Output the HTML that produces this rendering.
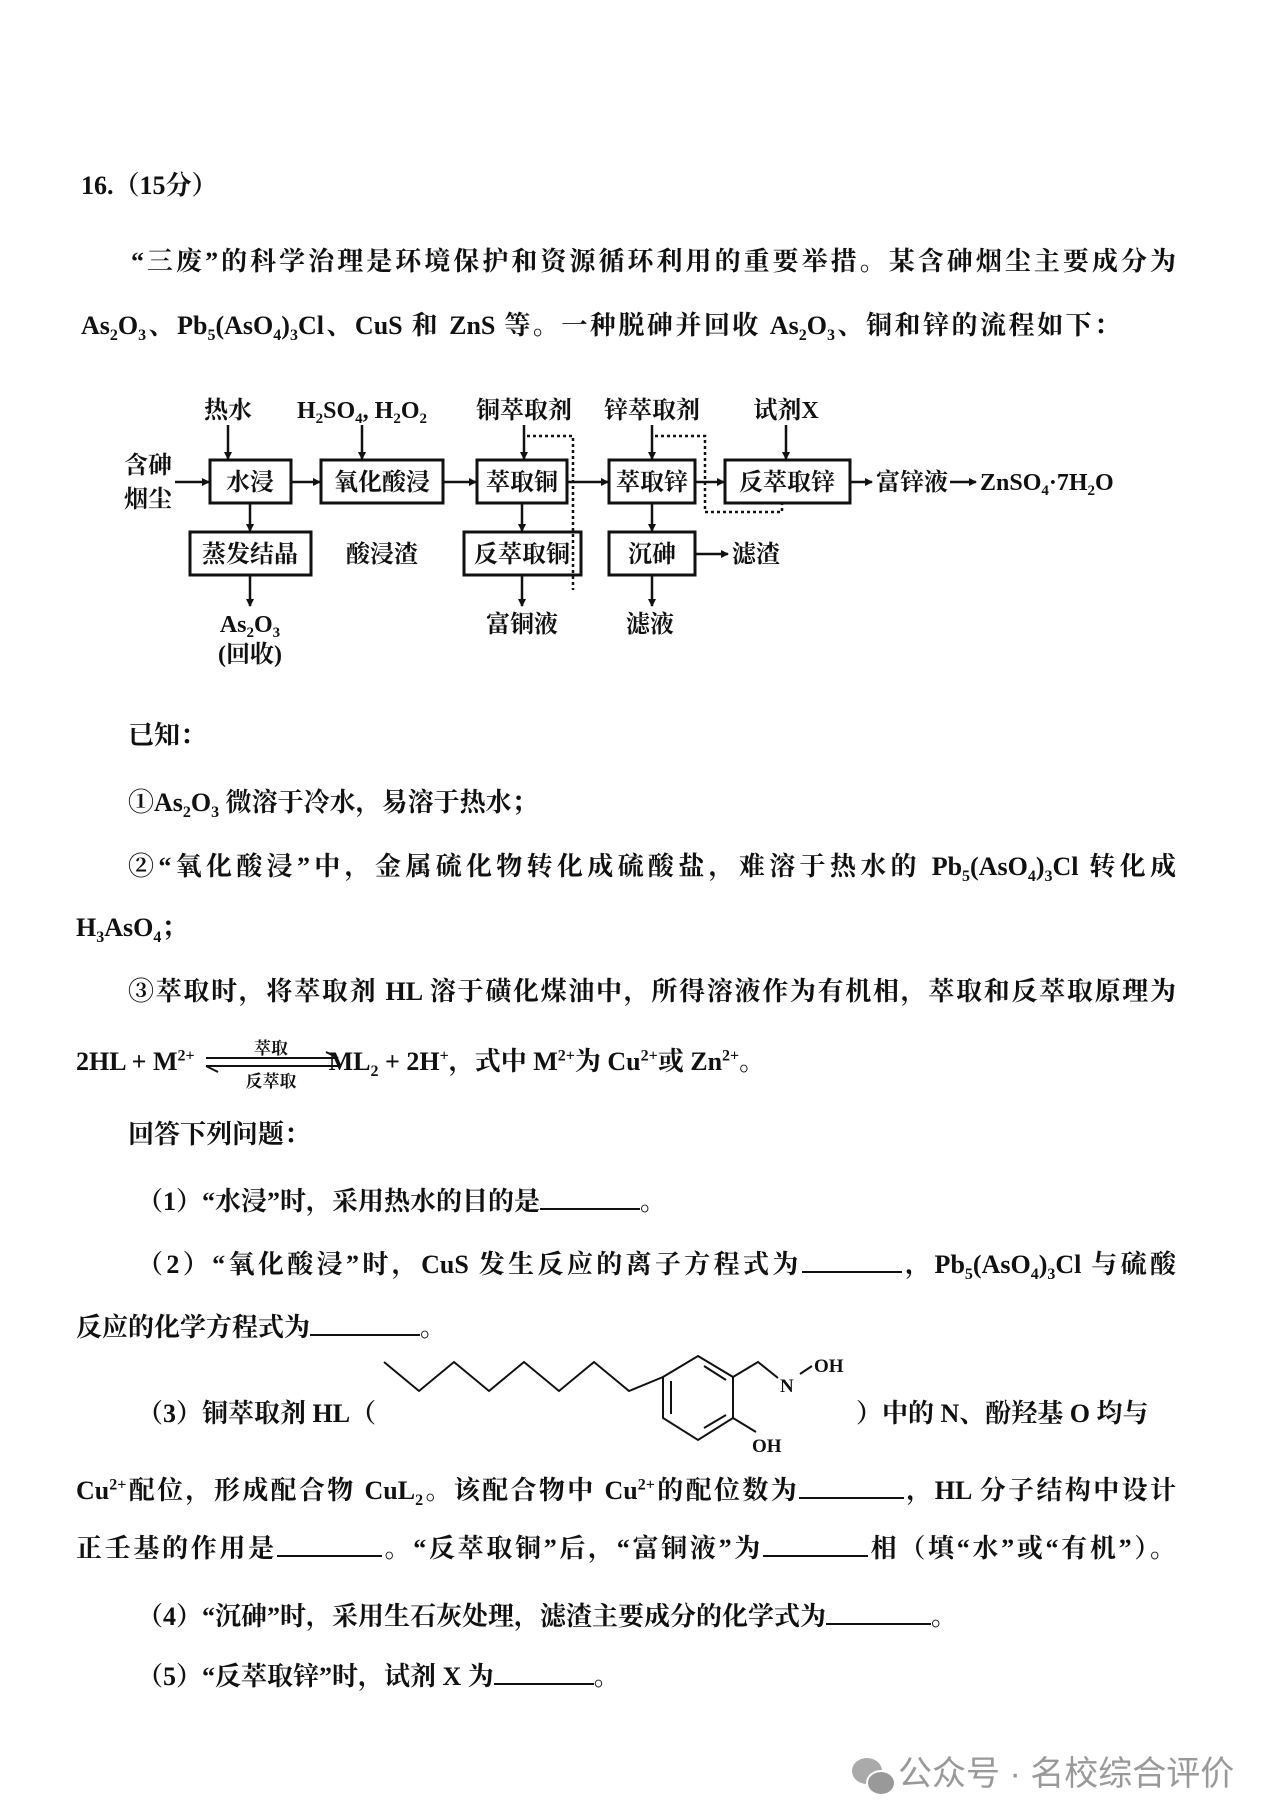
<!DOCTYPE html>
<html><head><meta charset="utf-8">
<style>
body{margin:0;background:#fff;}
#p{position:relative;width:1280px;height:1808px;overflow:hidden;background:#fff;color:#111;
font-family:"Liberation Serif","Noto Serif CJK SC",serif;font-weight:bold;}
.l{position:absolute;white-space:nowrap;font-size:26px;line-height:30px;}
.j{text-align:justify;text-align-last:justify;white-space:normal;}
.u{display:inline-block;border-bottom:2px solid #111;height:22px;vertical-align:baseline;}
sub,sup{font-size:16px;line-height:0;}
svg{position:absolute;left:0;top:0;}
svg text{font-family:"Liberation Serif","Noto Serif CJK SC",serif;font-weight:bold;fill:#111;}
</style></head><body><div id="p">
<div class="l" style="left:81px;top:171px;">16.（15分）</div>
<div class="l j" style="left:131px;top:247px;width:1045px;">“三废”的科学治理是环境保护和资源循环利用的重要举措。某含砷烟尘主要成分为</div>
<div class="l j" style="left:81px;top:311px;width:1039px;">As<sub>2</sub>O<sub>3</sub>、Pb<sub>5</sub>(AsO<sub>4</sub>)<sub>3</sub>Cl、CuS 和 ZnS 等。一种脱砷并回收 As<sub>2</sub>O<sub>3</sub>、铜和锌的流程如下：</div>

<div class="l" style="left:128px;top:721px;">已知：</div>
<div class="l" style="left:128px;top:788px;">①As<sub>2</sub>O<sub>3</sub> 微溶于冷水，易溶于热水；</div>
<div class="l j" style="left:128px;top:852px;width:1048px;">②“氧化酸浸”中，金属硫化物转化成硫酸盐，难溶于热水的 Pb<sub>5</sub>(AsO<sub>4</sub>)<sub>3</sub>Cl 转化成</div>
<div class="l" style="left:76px;top:913px;">H<sub>3</sub>AsO<sub>4</sub>；</div>
<div class="l j" style="left:128px;top:977px;width:1048px;">③萃取时，将萃取剂 HL 溶于磺化煤油中，所得溶液作为有机相，萃取和反萃取原理为</div>
<div class="l" style="left:76px;top:1047px;">2HL + M<sup>2+</sup><span style="display:inline-block;width:134px;"></span>ML<sub>2</sub> + 2H<sup>+</sup>，式中 M<sup>2+</sup>为 Cu<sup>2+</sup>或 Zn<sup>2+</sup>。</div>
<div class="l" style="left:128px;top:1120px;">回答下列问题：</div>
<div class="l" style="left:137px;top:1186px;">（1）“水浸”时，采用热水的目的是<span class="u" style="width:100px"></span>。</div>
<div class="l j" style="left:137px;top:1249px;width:1039px;">（2）“氧化酸浸”时，CuS 发生反应的离子方程式为<span class="u" style="width:100px"></span>，Pb<sub>5</sub>(AsO<sub>4</sub>)<sub>3</sub>Cl 与硫酸</div>
<div class="l" style="left:76px;top:1312px;">反应的化学方程式为<span class="u" style="width:110px"></span>。</div>
<div class="l" style="left:137px;top:1399px;">（3）铜萃取剂 HL（</div>
<div class="l" style="left:856px;top:1399px;">）中的 N、酚羟基 O 均与</div>
<div class="l j" style="left:76px;top:1475px;width:1100px;">Cu<sup>2+</sup>配位，形成配合物 CuL<sub>2</sub>。该配合物中 Cu<sup>2+</sup>的配位数为<span class="u" style="width:105px"></span>，HL 分子结构中设计</div>
<div class="l j" style="left:76px;top:1533px;width:1100px;">正壬基的作用是<span class="u" style="width:105px"></span>。“反萃取铜”后，“富铜液”为<span class="u" style="width:105px"></span>相（填“水”或“有机”）。</div>
<div class="l" style="left:137px;top:1601px;">（4）“沉砷”时，采用生石灰处理，滤渣主要成分的化学式为<span class="u" style="width:105px"></span>。</div>
<div class="l" style="left:137px;top:1661px;">（5）“反萃取锌”时，试剂 X 为<span class="u" style="width:100px"></span>。</div>
<div style="position:absolute;left:852px;top:1758px;width:30px;height:26px;border-radius:50%;background:#aaa;"></div>
<div style="position:absolute;left:866px;top:1770px;width:26px;height:22px;border-radius:50%;background:#999;border:2px solid #fff;"></div>
<div class="l" style="left:898px;top:1755px;font-weight:normal;color:#999;font-family:'Liberation Sans','Noto Sans CJK SC',sans-serif;font-size:34px;line-height:38px;">公众号 · 名校综合评价</div>

<svg width="1280" height="1808" viewBox="0 0 1280 1808">
<defs><marker id="a" markerWidth="8" markerHeight="8" refX="7" refY="4" orient="auto" markerUnits="userSpaceOnUse"><path d="M0,0 L8,4 L0,8z" fill="#111"/></marker></defs>
<g font-size="24">
<text x="228" y="418" text-anchor="middle">热水</text>
<text x="362" y="418" text-anchor="middle">H<tspan font-size="15" dy="5">2</tspan><tspan dy="-5">SO</tspan><tspan font-size="15" dy="5">4</tspan><tspan dy="-5">, H</tspan><tspan font-size="15" dy="5">2</tspan><tspan dy="-5">O</tspan><tspan font-size="15" dy="5">2</tspan></text>
<text x="524" y="418" text-anchor="middle">铜萃取剂</text>
<text x="652" y="418" text-anchor="middle">锌萃取剂</text>
<text x="786" y="418" text-anchor="middle">试剂X</text>
<text x="148" y="473" text-anchor="middle">含砷</text>
<text x="148" y="507" text-anchor="middle">烟尘</text>
<text x="250" y="490" text-anchor="middle">水浸</text>
<text x="382" y="490" text-anchor="middle">氧化酸浸</text>
<text x="522" y="490" text-anchor="middle">萃取铜</text>
<text x="652" y="490" text-anchor="middle">萃取锌</text>
<text x="787" y="490" text-anchor="middle">反萃取锌</text>
<text x="876" y="490">富锌液</text>
<text x="980" y="490">ZnSO<tspan font-size="15" dy="5">4</tspan><tspan dy="-5">·7H</tspan><tspan font-size="15" dy="5">2</tspan><tspan dy="-5">O</tspan></text>
<text x="250" y="562" text-anchor="middle">蒸发结晶</text>
<text x="382" y="562" text-anchor="middle">酸浸渣</text>
<text x="522" y="562" text-anchor="middle">反萃取铜</text>
<text x="652" y="562" text-anchor="middle">沉砷</text>
<text x="732" y="562">滤渣</text>
<text x="250" y="632" text-anchor="middle">As<tspan font-size="15" dy="5">2</tspan><tspan dy="-5">O</tspan><tspan font-size="15" dy="5">3</tspan></text>
<text x="250" y="662" text-anchor="middle">(回收)</text>
<text x="522" y="632" text-anchor="middle">富铜液</text>
<text x="650" y="632" text-anchor="middle">滤液</text>
</g>
<g fill="none" stroke="#111" stroke-width="3">
<rect x="210" y="460" width="81" height="43"/>
<rect x="321" y="460" width="122" height="43"/>
<rect x="477" y="460" width="90" height="43"/>
<rect x="609" y="460" width="86" height="43"/>
<rect x="725" y="460" width="125" height="43"/>
<rect x="190" y="532" width="121" height="43"/>
<rect x="464" y="532" width="117" height="43"/>
<rect x="609" y="532" width="86" height="43"/>
</g>
<g stroke="#111" stroke-width="2.5" marker-end="url(#a)">
<line x1="228" y1="425" x2="228" y2="459"/>
<line x1="362" y1="425" x2="362" y2="459"/>
<line x1="524" y1="425" x2="524" y2="459"/>
<line x1="652" y1="425" x2="652" y2="459"/>
<line x1="786" y1="425" x2="786" y2="459"/>
<line x1="175" y1="482" x2="209" y2="482"/>
<line x1="291" y1="482" x2="320" y2="482"/>
<line x1="443" y1="482" x2="476" y2="482"/>
<line x1="567" y1="482" x2="608" y2="482"/>
<line x1="695" y1="482" x2="724" y2="482"/>
<line x1="850" y1="482" x2="872" y2="482"/>
<line x1="950" y1="482" x2="976" y2="482"/>
<line x1="250" y1="503" x2="250" y2="531"/>
<line x1="250" y1="575" x2="250" y2="606"/>
<line x1="522" y1="503" x2="522" y2="531"/>
<line x1="522" y1="575" x2="522" y2="606"/>
<line x1="652" y1="503" x2="652" y2="531"/>
<line x1="652" y1="575" x2="652" y2="606"/>
<line x1="695" y1="554" x2="728" y2="554"/>
</g>
<g fill="none" stroke="#111" stroke-width="2.5" stroke-dasharray="3,3">
<polyline points="527,436 573,436 573,590"/>
<polyline points="655,436 705,436 705,512 782,512 782,503"/>
</g>
<g stroke="#111" stroke-width="2" fill="none">
<line x1="206" y1="1058" x2="338" y2="1058"/><path d="M326,1052 L338,1058"/>
<line x1="206" y1="1066" x2="338" y2="1066"/><path d="M218,1072 L206,1066"/>
<polyline points="384,1362 419,1391 454,1362 489,1391 524,1362 559,1391 594,1362 629,1391 663,1377"/>
<polygon points="698,1356 733,1377 733,1418 698,1440 663,1418 663,1377"/>
<line x1="704" y1="1366" x2="726" y2="1380"/>
<line x1="726" y1="1415" x2="704" y2="1428"/>
<line x1="671" y1="1381" x2="671" y2="1414"/>
<polyline points="733,1377 758,1362 778,1378"/>
<line x1="800" y1="1374" x2="812" y2="1366"/>
<line x1="733" y1="1418" x2="756" y2="1432"/>
</g>
<text x="271" y="1054" font-size="17" text-anchor="middle">萃取</text>
<text x="271" y="1087" font-size="17" text-anchor="middle">反萃取</text>
<text x="780" y="1392" font-size="19">N</text>
<text x="814" y="1372" font-size="19">OH</text>
<text x="752" y="1452" font-size="19">OH</text>
</svg>
</div></body></html>
